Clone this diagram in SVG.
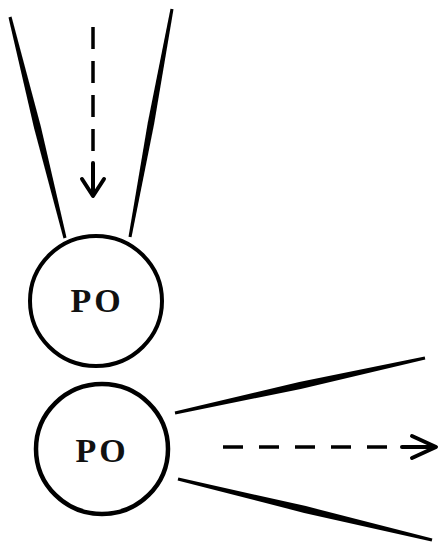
<svg xmlns="http://www.w3.org/2000/svg" width="441" height="548" viewBox="0 0 441 548">
<style>
.node{fill:#fff;stroke:#000;stroke-width:4}
.lbl{font-family:"Liberation Serif",serif;font-weight:bold;font-size:34px;letter-spacing:3px;text-anchor:middle;fill:#111}
.flow{fill:none;stroke:#000;stroke-width:3.5}
.head{fill:none;stroke:#000;stroke-width:4;stroke-linecap:round;stroke-linejoin:round}
.wedge{fill:#000}
</style>
<rect width="441" height="548" fill="#fff"/>
<g id="connectors">
<polygon class="wedge" points="11.5,16.6 40.9,126.7 66.5,237.6 63.5,238.4 34.1,128.3 8.5,17.4"/>
<polygon class="wedge" points="173.5,9.3 154.2,123.6 131.5,237.3 128.5,236.7 147.8,122.4 170.5,8.7"/>
<path class="flow" d="M93,27 V160" stroke-dasharray="22 12"/>
<path class="head" d="M82,179 L93,196 L104,179 M93,163 V195"/>
<polygon class="wedge" points="175.3,414.5 300.75,388.9 425.3,359.5 424.7,356.5 299.25,382.1 174.7,411.5"/>
<polygon class="wedge" points="177.65,480.5 304.2,512.9 431.65,541.5 432.35,538.5 305.8,506.1 178.35,477.5"/>
<path class="flow" d="M223,447 H395" stroke-dasharray="20 16"/>
<path class="head" d="M412,436 L436,447 L412,458 M402,447 H434"/>
</g>
<g id="node-top">
<ellipse class="node" cx="96" cy="301" rx="66" ry="65"/>
<text class="lbl" x="97" y="312">PO</text>
</g>
<g id="node-bottom">
<ellipse class="node" cx="102" cy="449" rx="66" ry="65" style="stroke-width:4.5"/>
<text class="lbl" x="102" y="462">PO</text>
</g>
</svg>
